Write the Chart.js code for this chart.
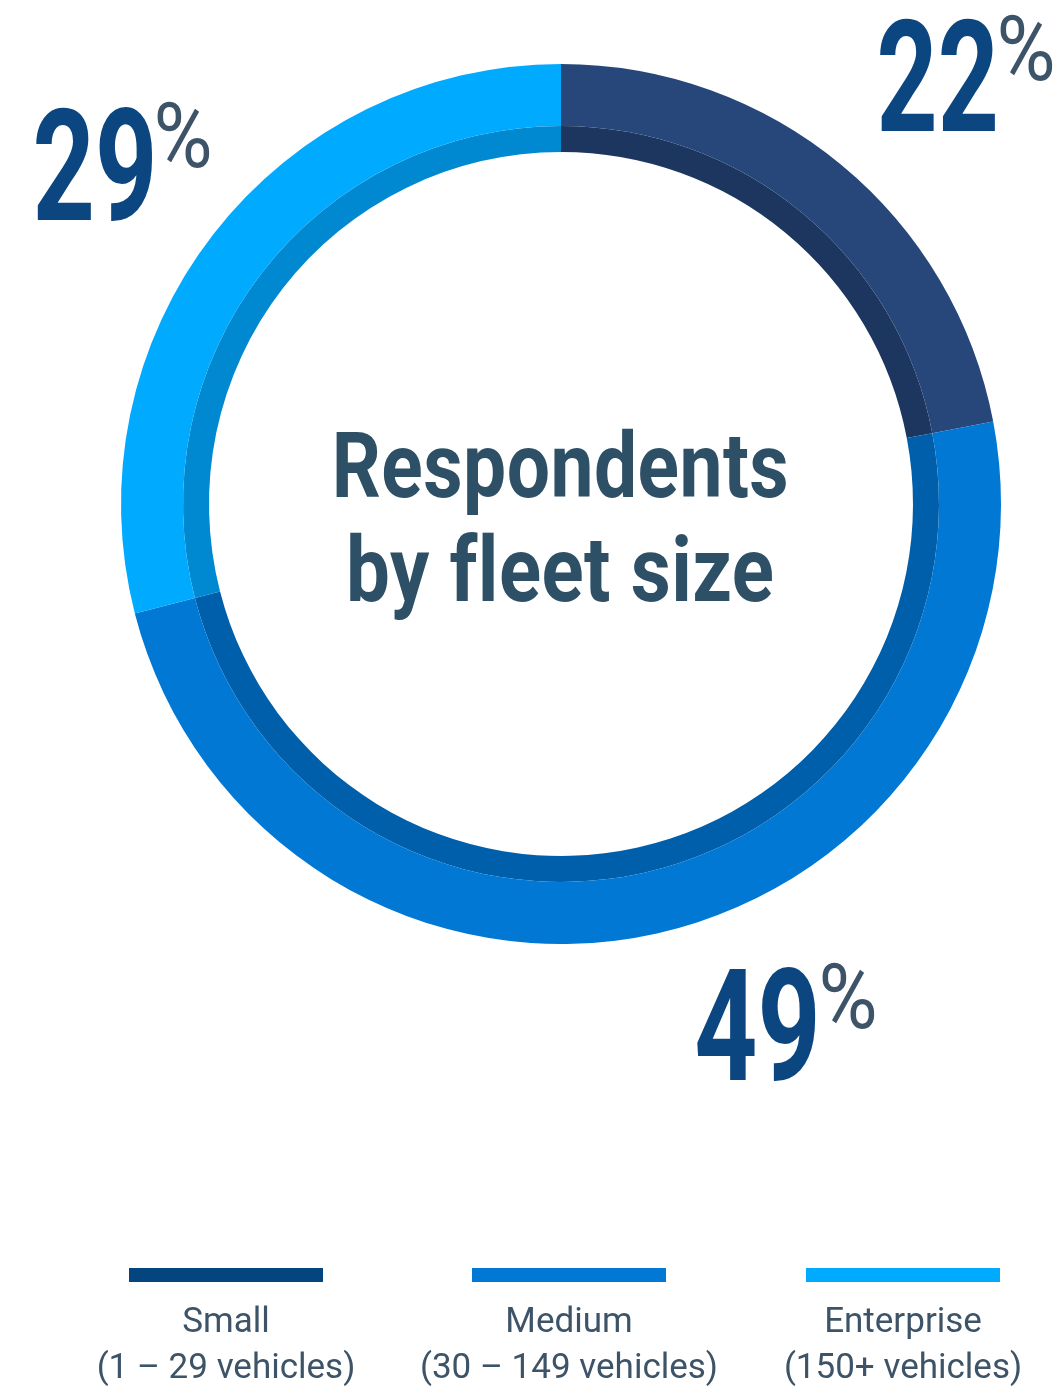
<!DOCTYPE html>
<html>
<head>
<meta charset="utf-8">
<title>Respondents by fleet size</title>
<script src="https://cdn.jsdelivr.net/npm/chart.js@4/dist/chart.umd.min.js"></script>
<style>
  html, body { margin: 0; padding: 0; background: #fff; }
  #wrap { width: 1062px; height: 1391px; position: relative; }
</style>
</head>
<body>
<div id="wrap"><canvas id="fleetChart"></canvas></div>
<script>
// survey split by fleet size (percent)
const segments = ['Small', 'Medium', 'Enterprise'];
const ranges = ['(1 \u2013 29 vehicles)', '(30 \u2013 149 vehicles)', '(150+ vehicles)'];
const shares = [22, 49, 29];

const ringColors = ['#27477a', '#0078d4', '#00aaff'];
const innerColors = ['#1d365f', '#005faa', '#0088d1'];
const legendColors = ['#04457f', '#0078d4', '#00aaff'];

const numberColor = '#0b4680';
const slate = '#3d5468';
const titleColor = '#2d5066';

// draw text squeezed/stretched so its ink fits a given width
function fitText(ctx, text, x, baseline, inkWidth, align) {
  const m = ctx.measureText(text);
  const ink = m.actualBoundingBoxLeft + m.actualBoundingBoxRight;
  const sx = inkWidth / ink;
  let left = x;
  if (align === 'center') left = x - inkWidth / 2;
  ctx.save();
  ctx.translate(left + m.actualBoundingBoxLeft * sx, baseline);
  ctx.scale(sx, 1);
  ctx.textAlign = 'left';
  ctx.textBaseline = 'alphabetic';
  ctx.fillText(text, 0, 0);
  ctx.restore();
}

const labelsPlugin = {
  id: 'fleetLabels',
  afterDraw(chart) {
    const ctx = chart.ctx;
    const { left, right, top, bottom } = chart.chartArea;
    const cx = (left + right) / 2;
    const cy = (top + bottom) / 2;

    // centre title; a tiny letter spacing stops the "fl" ligature
    ctx.save();
    ctx.fillStyle = titleColor;
    ctx.font = 'bold 90px Roboto';
    ctx.letterSpacing = '0.5px';
    fitText(ctx, 'Respondents', cx, cy - 7, 450, 'center');
    fitText(ctx, 'by fleet size', cx, cy + 97, 423, 'center');
    ctx.restore();

    // big percentage labels: [digits left, baseline, digits width, % left, % baseline]
    const spots = [
      [880, 131, 115, 1000, 80],
      [697, 1080, 118, 822, 1028],
      [36, 220, 116, 157, 167]
    ];
    shares.forEach((v, i) => {
      const s = spots[i];
      ctx.fillStyle = numberColor;
      ctx.font = 'bold 155px Roboto';
      fitText(ctx, String(v), s[0], s[1], s[2], 'left');
      ctx.fillStyle = slate;
      ctx.font = '400 90px Roboto';
      fitText(ctx, '%', s[3], s[4], 52, 'left');
    });

    // legend
    const centers = [226, 569, 903];
    segments.forEach((name, i) => {
      const c = centers[i];
      ctx.fillStyle = legendColors[i];
      ctx.fillRect(c - 97, 1268, 194, 14);
      ctx.fillStyle = slate;
      ctx.font = '35px Roboto';
      ctx.textAlign = 'center';
      ctx.textBaseline = 'alphabetic';
      ctx.fillText(name, c, 1332);
      ctx.fillText(ranges[i], c, 1378);
    });
  }
};

new Chart(document.getElementById('fleetChart').getContext('2d'), {
  type: 'doughnut',
  data: {
    labels: segments,
    datasets: [
      {
        data: shares,
        backgroundColor: ringColors,
        borderWidth: 0,
        weight: 62
      },
      {
        data: shares,
        backgroundColor: innerColors,
        borderWidth: 0,
        weight: 26
      }
    ]
  },
  options: {
    responsive: true,
    maintainAspectRatio: false,
    animation: false,
    cutout: '80%',
    layout: { padding: { left: 121, right: 61, top: 64, bottom: 447 } },
    plugins: {
      legend: { display: false },
      tooltip: { enabled: false }
    }
  },
  plugins: [labelsPlugin]
});
</script>
</body>
</html>
